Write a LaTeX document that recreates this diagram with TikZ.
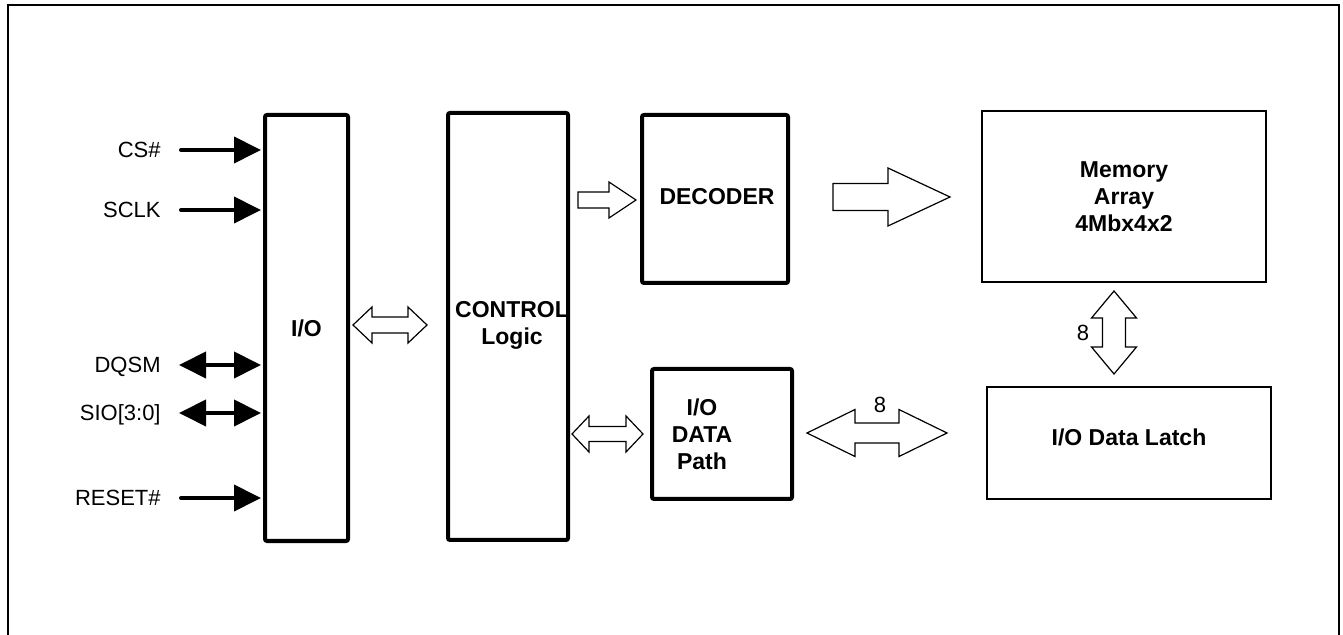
\documentclass[tikz,border=0pt]{standalone}
\usepackage{fontspec}
\setmainfont{Liberation Sans}
\usetikzlibrary{arrows.meta,calc,positioning}

% hollow block arrows: tips/tails are named coordinates, sizes in picture units
\newcommand{\hollowright}[5]{%
	\draw[hollow] ($(#1)+(0,-#3)$) -- ($(#2)+(-#5,-#3)$) -- ++(0,#3-#4) -- (#2)
	-- ++(-#5,#4) -- ++(0,#3-#4) -- ($(#1)+(0,#3)$) -- cycle;}
\newcommand{\hollowboth}[5]{%
	\draw[hollow] (#1) -- ++(#5,-#4) -- ++(0,#4-#3) -- ($(#2)+(-#5,-#3)$) -- ++(0,#3-#4)
	-- (#2) -- ++(-#5,#4) -- ++(0,#3-#4) -- ($(#1)+(#5,#3)$) -- ++(0,#4-#3) -- cycle;}
\newcommand{\hollowvert}[5]{%
	\draw[hollow] (#1) -- ++(#4,#5) -- ++(#3-#4,0) -- ($(#2)+(#3,-#5)$) -- ++(#4-#3,0)
	-- (#2) -- ++(-#4,-#5) -- ++(#4-#3,0) -- ($(#1)+(-#3,#5)$) -- ++(#3-#4,0) -- cycle;}

\begin{document}
\begin{tikzpicture}[x=0.5pt,y=-0.5pt,
	font=\fontsize{11}{13.5}\selectfont,
	blk/.style={draw,line width=2pt,rounded corners=1pt,inner sep=0pt,align=center,
		font=\fontsize{11.5}{13.5}\selectfont\bfseries},
	thinblk/.style={draw,line width=1pt,inner sep=0pt,align=center,
		font=\fontsize{11.5}{13.5}\selectfont\bfseries},
	txt/.style={inner sep=0pt,align=center,font=\fontsize{11.5}{13.5}\selectfont\bfseries},
	pin/.style={anchor=east,inner sep=0pt,text height=7.9pt,text depth=0pt},
	sig/.style={line width=2pt,line cap=round,shorten >=1pt,-{Triangle[length=13.5pt,width=13pt]}},
	sigboth/.style={line width=2pt,shorten >=1pt,
		{Triangle[length=13.5pt,width=13pt]}-{Triangle[length=13.5pt,width=13pt]}},
	hollow/.style={draw,line width=0.6pt,line join=miter,fill=white}]

	\useasboundingbox (0,0) rectangle (1343,635);
	\draw[line width=1pt] (8,635) -- (8,5) -- (1339,5) -- (1339,635);

	% blocks
	\node[blk,minimum width=41.5pt,minimum height=213pt] (io) at (306.5,328) {I/O};
	\node[blk,minimum width=60pt,minimum height=213.5pt] (ctrl) at (508,326.5) {};
	\node[txt] (ctrllbl) at (512,325) {CONTROL\\Logic};
	\node[blk,minimum width=73pt,minimum height=84pt] (dec) at (715,199) {};
	\node[txt] (declbl) at (717,197) {DECODER};
	\node[blk,minimum width=70pt,minimum height=65pt] (path) at (722,434) {};
	\node[txt] (pathlbl) at (702,434) {I/O\\DATA\\Path};
	\node[thinblk,minimum width=142pt,minimum height=85.5pt] (mem) at (1124,196.5) {Memory\\Array\\4Mbx4x2};
	\node[thinblk,minimum width=142pt,minimum height=56pt,text height=8.2pt,text depth=6pt] (latch) at (1129,443) {I/O Data Latch};

	% pins
	\node[pin] (cs) at (161,150) {CS\#};
	\node[pin] (sclk) at (161,210) {SCLK};
	\node[pin] (dqsm) at (161,365) {DQSM};
	\node[pin] (sio) at (161,413) {SIO[3:0]};
	\node[pin] (rst) at (161,498) {RESET\#};
	\draw[sig] ([xshift=10pt]cs.east) -- (cs -| io.west);
	\draw[sig] ([xshift=10pt]sclk.east) -- (sclk -| io.west);
	\draw[sigboth] ([xshift=9pt]dqsm.east) -- (dqsm -| io.west);
	\draw[sigboth] ([xshift=9pt]sio.east) -- (sio -| io.west);
	\draw[sig] ([xshift=10pt]rst.east) -- (rst -| io.west);

	% buses
	\coordinate (ioL) at (353,325);
	\coordinate (ioR) at (427,325);
	\hollowboth{ioL}{ioR}{8}{18}{19}
	\coordinate (decT) at (578,200);
	\coordinate (decH) at (636,200);
	\hollowright{decT}{decH}{8}{18}{27}
	\coordinate (memT) at (833,197);
	\coordinate (memH) at (950,197);
	\hollowright{memT}{memH}{13.5}{29}{62}
	\coordinate (pathL) at (572,434);
	\coordinate (pathR) at (643,434);
	\hollowboth{pathL}{pathR}{7.5}{18}{17}
	\coordinate (latchL) at (807,433);
	\coordinate (latchR) at (947,433);
	\hollowboth{latchL}{latchR}{10}{23.5}{48}
	\node (busa) at (880,405) {8};
	\coordinate (memB) at (1114,291);
	\coordinate (latchT) at (1114,374);
	\hollowvert{memB}{latchT}{11.5}{22.5}{27}
	\node (busb) at (1083,333) {8};
\end{tikzpicture}
\end{document}
